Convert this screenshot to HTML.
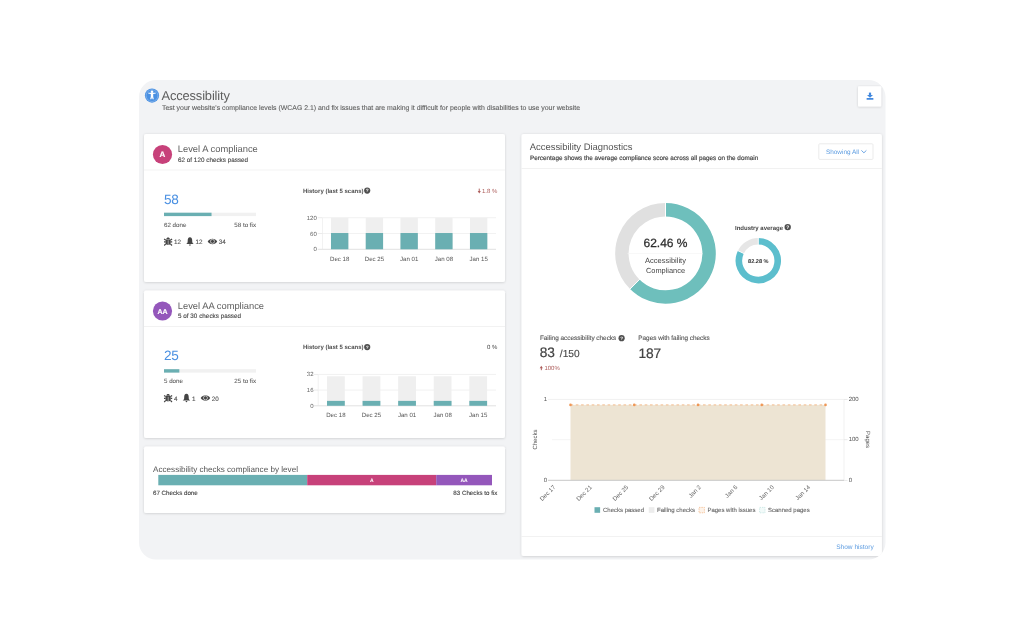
<!DOCTYPE html><html><head><meta charset="utf-8"><title>Accessibility</title><style>html,body{margin:0;padding:0;background:#fff;}svg{display:block;will-change:transform;text-rendering:geometricPrecision;font-family:"Liberation Sans",sans-serif;}</style></head><body><div id="w"><svg width="1024" height="640" viewBox="0 0 1024 640"><defs>
<clipPath id="pc"><rect x="139" y="80" width="746.5" height="479.5" rx="17" ry="17"/></clipPath>
<filter id="sh" x="-5%" y="-5%" width="110%" height="115%"><feDropShadow dx="0" dy="0.5" stdDeviation="1.1" flood-color="#000" flood-opacity="0.17"/></filter>
</defs>
<rect x="139" y="80" width="746.5" height="479.5" rx="17" ry="17" fill="#f2f3f5"/>
<g clip-path="url(#pc)">
<circle cx="152" cy="95.6" r="7.1" fill="#4a90e2"/>
<circle cx="152" cy="95.6" r="5.9" fill="none" stroke="#fff" stroke-opacity="0.5" stroke-width="0.5"/>
<g fill="#fff"><circle cx="152" cy="91.7" r="1.3"/><path d="M148.2 92.7 L155.8 92.7 L155.8 93.6 L153.2 94.1 L153.2 96.5 L153.8 99.2 L152.6 99.2 L152 97.2 L151.4 99.2 L150.2 99.2 L150.8 96.5 L150.8 94.1 L148.2 93.6 Z"/></g>
<text x="161.5" y="99.7" fill="#5e5e5e" text-anchor="start" style="font-size:12.9px;letter-spacing:-0.15px;" >Accessibility</text>
<text x="162" y="109.8" fill="#5e5e5e" text-anchor="start" style="font-size:6.92px;stroke:#5e5e5e;stroke-width:0.1px;" >Test your website's compliance levels (WCAG 2.1) and fix issues that are making it difficult for people with disabilities to use your website</text>
<rect x="858" y="86.3" width="23.2" height="20.3" rx="1" fill="#fff" filter="url(#sh)"/>
<g fill="#4389de"><rect x="868.9" y="92.6" width="2.2" height="2.6"/><path d="M867.0 95.0 L873.0 95.0 L870.0 97.8 Z"/><rect x="866.6" y="98.0" width="6.8" height="1.7" rx="0.3"/></g>
<rect x="144" y="134" width="361" height="148" rx="2" fill="#fff" filter="url(#sh)"/>
<rect x="144" y="290.5" width="361" height="147.5" rx="2" fill="#fff" filter="url(#sh)"/>
<rect x="144" y="446.5" width="361" height="66.5" rx="2" fill="#fff" filter="url(#sh)"/>
<rect x="521.5" y="134" width="360.4" height="422" rx="2" fill="#fff" filter="url(#sh)"/>
<circle cx="162.5" cy="154.5" r="9.6" fill="#c7417a"/>
<text x="162.5" y="157.3" fill="#fff" text-anchor="middle" style="font-size:8.0px;stroke:#fff;stroke-width:0.15px;font-weight:bold;" >A</text>
<text x="177.8" y="152.2" fill="#5e5e5e" text-anchor="start" style="font-size:9.35px;" >Level A compliance</text>
<text x="178" y="161.6" fill="#444" text-anchor="start" style="font-size:6.3px;stroke:#444;stroke-width:0.12px;letter-spacing:0.02px;" >62 of 120 checks passed</text>
<rect x="144" y="169.6" width="361" height="0.8" fill="#efefef" />
<text x="164" y="203.7" fill="#4a90e2" text-anchor="start" style="font-size:13.6px;letter-spacing:-0.2px;" >58</text>
<rect x="164" y="212.7" width="92" height="3.4" fill="#f1f1f1" />
<rect x="164" y="212.7" width="47.53333333333334" height="3.4" fill="#6aafb2" />
<text x="164" y="226.8" fill="#5e5e5e" text-anchor="start" style="font-size:6.2px;stroke:#5e5e5e;stroke-width:0.08px;" >62 done</text>
<text x="256" y="226.8" fill="#5e5e5e" text-anchor="end" style="font-size:6.2px;stroke:#5e5e5e;stroke-width:0.08px;" >58 to fix</text>
<g fill="#454545" transform="translate(164,237.1)"><path d="M2.3 2.1 C2.3 -0.1 5.9 -0.1 5.9 2.1 Z"/><path d="M1.5 2.4 H6.7 V6.0 C6.7 8.6 1.5 8.6 1.5 6.0 Z"/><path d="M0.1 1.9 L1.6 3.0 M8.1 1.9 L6.6 3.0 M0 4.8 L1.6 4.8 M8.2 4.8 L6.6 4.8 M0.2 8.4 L1.8 6.8 M8.0 8.4 L6.4 6.8" stroke="#454545" stroke-width="1.2"/><rect x="3.85" y="3.2" width="0.5" height="5.2" fill="#fff"/></g>
<text x="174" y="244" fill="#555" text-anchor="start" style="font-size:6.3px;stroke:#555;stroke-width:0.12px;" >12</text>
<g fill="#454545" transform="translate(186.20559999999998,237.2)"><path d="M3.75 0.1 C2.1 0.3 1.5 1.7 1.5 3.4 L1.4 5.0 Q1.1 6.0 0 6.9 L7.5 6.9 Q6.4 6.0 6.1 5.0 L6.0 3.4 C6.0 1.7 5.4 0.3 3.75 0.1 Z"/><path d="M2.9 7.2 H4.6 Q4.6 8.6 3.75 8.6 Q2.9 8.6 2.9 7.2 Z"/></g>
<text x="195.5056" y="244" fill="#555" text-anchor="start" style="font-size:6.3px;stroke:#555;stroke-width:0.12px;" >12</text>
<g transform="translate(207.71119999999996,238.4)"><path d="M0 3.0 C2.2 -0.7 7.3 -0.7 9.5 3.0 C7.3 6.7 2.2 6.7 0 3.0 Z" fill="#454545"/><circle cx="4.75" cy="3.0" r="2.0" fill="none" stroke="#fff" stroke-width="0.7" stroke-opacity="0.9"/></g>
<text x="218.71119999999996" y="244" fill="#555" text-anchor="start" style="font-size:6.3px;stroke:#555;stroke-width:0.12px;" >34</text>
<text x="303" y="192.9" fill="#505050" text-anchor="start" style="font-size:6.02px;font-weight:bold;" >History (last 5 scans)</text>
<circle cx="367.2" cy="190.6" r="3.1" fill="#505050"/><text x="367.2" y="192.35" fill="#fff" text-anchor="middle" style="font-size:4.81px;font-weight:bold">?</text>
<text x="497.3" y="192.9" fill="#ad5d5b" text-anchor="end" style="font-size:6.0px;" >1.8 %</text>
<g fill="#ad5d5b"><rect x="478.75" y="188.6" width="0.95" height="3"/><path d="M477.7 191.1 L480.8 191.1 L479.25 193.6 Z"/></g>
<rect x="322.3" y="217.45000000000002" width="173.7" height="0.7" fill="#ececec" />
<rect x="322.3" y="233.20000000000002" width="173.7" height="0.7" fill="#ececec" />
<rect x="322.0" y="217.8" width="0.7" height="31.5" fill="#ececec" />
<rect x="317.8" y="248.8" width="178.2" height="1.0" fill="#e2e2e2" />
<rect x="317.8" y="217.45000000000002" width="4.5" height="0.7" fill="#e2e2e2" />
<rect x="317.8" y="233.20000000000002" width="4.5" height="0.7" fill="#e2e2e2" />
<text x="316.8" y="219.9" fill="#666" text-anchor="end" style="font-size:6.0px;" >120</text>
<text x="316.8" y="235.65" fill="#666" text-anchor="end" style="font-size:6.0px;" >60</text>
<text x="316.8" y="251.4" fill="#666" text-anchor="end" style="font-size:6.0px;" >0</text>
<rect x="330.985" y="217.8" width="17.369999999999997" height="31.5" fill="#efefef" />
<rect x="330.985" y="233.025" width="17.369999999999997" height="16.275" fill="#6aafb2" />
<text x="339.67" y="260.8" fill="#555" text-anchor="middle" style="font-size:6.1px;" >Dec 18</text>
<rect x="365.725" y="217.8" width="17.369999999999997" height="31.5" fill="#efefef" />
<rect x="365.725" y="233.025" width="17.369999999999997" height="16.275" fill="#6aafb2" />
<text x="374.41" y="260.8" fill="#555" text-anchor="middle" style="font-size:6.1px;" >Dec 25</text>
<rect x="400.465" y="217.8" width="17.369999999999997" height="31.5" fill="#efefef" />
<rect x="400.465" y="233.025" width="17.369999999999997" height="16.275" fill="#6aafb2" />
<text x="409.15" y="260.8" fill="#555" text-anchor="middle" style="font-size:6.1px;" >Jan 01</text>
<rect x="435.205" y="217.8" width="17.369999999999997" height="31.5" fill="#efefef" />
<rect x="435.205" y="233.025" width="17.369999999999997" height="16.275" fill="#6aafb2" />
<text x="443.89" y="260.8" fill="#555" text-anchor="middle" style="font-size:6.1px;" >Jan 08</text>
<rect x="469.945" y="217.8" width="17.369999999999997" height="31.5" fill="#efefef" />
<rect x="469.945" y="233.025" width="17.369999999999997" height="16.275" fill="#6aafb2" />
<text x="478.63" y="260.8" fill="#555" text-anchor="middle" style="font-size:6.1px;" >Jan 15</text>
<circle cx="162.5" cy="311.0" r="9.6" fill="#9457bb"/>
<text x="162.5" y="313.8" fill="#fff" text-anchor="middle" style="font-size:7.0px;stroke:#fff;stroke-width:0.15px;font-weight:bold;" >AA</text>
<text x="177.8" y="308.7" fill="#5e5e5e" text-anchor="start" style="font-size:9.35px;" >Level AA compliance</text>
<text x="178" y="318.1" fill="#444" text-anchor="start" style="font-size:6.3px;stroke:#444;stroke-width:0.12px;letter-spacing:0.02px;" >5 of 30 checks passed</text>
<rect x="144" y="326.1" width="361" height="0.8" fill="#efefef" />
<text x="164" y="360.2" fill="#4a90e2" text-anchor="start" style="font-size:13.6px;letter-spacing:-0.2px;" >25</text>
<rect x="164" y="369.2" width="92" height="3.4" fill="#f1f1f1" />
<rect x="164" y="369.2" width="15.333333333333332" height="3.4" fill="#6aafb2" />
<text x="164" y="383.3" fill="#5e5e5e" text-anchor="start" style="font-size:6.2px;stroke:#5e5e5e;stroke-width:0.08px;" >5 done</text>
<text x="256" y="383.3" fill="#5e5e5e" text-anchor="end" style="font-size:6.2px;stroke:#5e5e5e;stroke-width:0.08px;" >25 to fix</text>
<g fill="#454545" transform="translate(164,393.6)"><path d="M2.3 2.1 C2.3 -0.1 5.9 -0.1 5.9 2.1 Z"/><path d="M1.5 2.4 H6.7 V6.0 C6.7 8.6 1.5 8.6 1.5 6.0 Z"/><path d="M0.1 1.9 L1.6 3.0 M8.1 1.9 L6.6 3.0 M0 4.8 L1.6 4.8 M8.2 4.8 L6.6 4.8 M0.2 8.4 L1.8 6.8 M8.0 8.4 L6.4 6.8" stroke="#454545" stroke-width="1.2"/><rect x="3.85" y="3.2" width="0.5" height="5.2" fill="#fff"/></g>
<text x="174" y="400.5" fill="#555" text-anchor="start" style="font-size:6.3px;stroke:#555;stroke-width:0.12px;" >4</text>
<g fill="#454545" transform="translate(182.7028,393.7)"><path d="M3.75 0.1 C2.1 0.3 1.5 1.7 1.5 3.4 L1.4 5.0 Q1.1 6.0 0 6.9 L7.5 6.9 Q6.4 6.0 6.1 5.0 L6.0 3.4 C6.0 1.7 5.4 0.3 3.75 0.1 Z"/><path d="M2.9 7.2 H4.6 Q4.6 8.6 3.75 8.6 Q2.9 8.6 2.9 7.2 Z"/></g>
<text x="192.0028" y="400.5" fill="#555" text-anchor="start" style="font-size:6.3px;stroke:#555;stroke-width:0.12px;" >1</text>
<g transform="translate(200.7056,394.9)"><path d="M0 3.0 C2.2 -0.7 7.3 -0.7 9.5 3.0 C7.3 6.7 2.2 6.7 0 3.0 Z" fill="#454545"/><circle cx="4.75" cy="3.0" r="2.0" fill="none" stroke="#fff" stroke-width="0.7" stroke-opacity="0.9"/></g>
<text x="211.7056" y="400.5" fill="#555" text-anchor="start" style="font-size:6.3px;stroke:#555;stroke-width:0.12px;" >20</text>
<text x="303" y="349.4" fill="#505050" text-anchor="start" style="font-size:6.02px;font-weight:bold;" >History (last 5 scans)</text>
<circle cx="367.2" cy="347.1" r="3.1" fill="#505050"/><text x="367.2" y="348.85" fill="#fff" text-anchor="middle" style="font-size:4.81px;font-weight:bold">?</text>
<text x="497.3" y="349.4" fill="#444" text-anchor="end" style="font-size:6.0px;" >0 %</text>
<rect x="318.1" y="373.95" width="177.89999999999998" height="0.7" fill="#ececec" />
<rect x="318.1" y="389.7" width="177.89999999999998" height="0.7" fill="#ececec" />
<rect x="317.8" y="374.3" width="0.7" height="31.5" fill="#ececec" />
<rect x="313.6" y="405.3" width="182.39999999999998" height="1.0" fill="#e2e2e2" />
<rect x="313.6" y="373.95" width="4.5" height="0.7" fill="#e2e2e2" />
<rect x="313.6" y="389.7" width="4.5" height="0.7" fill="#e2e2e2" />
<text x="313.5" y="376.40000000000003" fill="#666" text-anchor="end" style="font-size:6.0px;" >32</text>
<text x="313.5" y="392.15000000000003" fill="#666" text-anchor="end" style="font-size:6.0px;" >16</text>
<text x="313.5" y="407.90000000000003" fill="#666" text-anchor="end" style="font-size:6.0px;" >0</text>
<rect x="326.99500000000006" y="376.26875" width="17.79" height="29.53125" fill="#efefef" />
<rect x="326.99500000000006" y="400.878125" width="17.79" height="4.921875" fill="#6aafb2" />
<text x="335.89000000000004" y="417.3" fill="#555" text-anchor="middle" style="font-size:6.1px;" >Dec 18</text>
<rect x="362.57500000000005" y="376.26875" width="17.79" height="29.53125" fill="#efefef" />
<rect x="362.57500000000005" y="400.878125" width="17.79" height="4.921875" fill="#6aafb2" />
<text x="371.47" y="417.3" fill="#555" text-anchor="middle" style="font-size:6.1px;" >Dec 25</text>
<rect x="398.15500000000003" y="376.26875" width="17.79" height="29.53125" fill="#efefef" />
<rect x="398.15500000000003" y="400.878125" width="17.79" height="4.921875" fill="#6aafb2" />
<text x="407.05" y="417.3" fill="#555" text-anchor="middle" style="font-size:6.1px;" >Jan 01</text>
<rect x="433.735" y="376.26875" width="17.79" height="29.53125" fill="#efefef" />
<rect x="433.735" y="400.878125" width="17.79" height="4.921875" fill="#6aafb2" />
<text x="442.63" y="417.3" fill="#555" text-anchor="middle" style="font-size:6.1px;" >Jan 08</text>
<rect x="469.31500000000005" y="376.26875" width="17.79" height="29.53125" fill="#efefef" />
<rect x="469.31500000000005" y="400.878125" width="17.79" height="4.921875" fill="#6aafb2" />
<text x="478.21000000000004" y="417.3" fill="#555" text-anchor="middle" style="font-size:6.1px;" >Jan 15</text>
<text x="153" y="471.6" fill="#555" text-anchor="start" style="font-size:8.15px;" >Accessibility checks compliance by level</text>
<rect x="158.3" y="474.9" width="148.9" height="10.4" fill="#6aafb2" />
<rect x="307.2" y="474.9" width="129.0" height="10.4" fill="#c7417a" />
<rect x="436.2" y="474.9" width="55.8" height="10.4" fill="#9457bb" />
<text x="371.7" y="482.2" fill="#fff" text-anchor="middle" style="font-size:5.0px;font-weight:bold;" >A</text>
<text x="464.1" y="482.2" fill="#fff" text-anchor="middle" style="font-size:5.0px;font-weight:bold;" >AA</text>
<text x="153" y="494.8" fill="#444" text-anchor="start" style="font-size:6.2px;stroke:#444;stroke-width:0.12px;" >67 Checks done</text>
<text x="497.4" y="494.8" fill="#444" text-anchor="end" style="font-size:6.2px;stroke:#444;stroke-width:0.12px;" >83 Checks to fix</text>
<text x="529.7" y="150.3" fill="#555" text-anchor="start" style="font-size:9.45px;" >Accessibility Diagnostics</text>
<text x="530" y="160.2" fill="#444" text-anchor="start" style="font-size:6.35px;stroke:#444;stroke-width:0.18px;" >Percentage shows the average compliance score across all pages on the domain</text>
<rect x="818.8" y="143.8" width="54.2" height="15.6" rx="1" fill="#fff" stroke="#e6e6e6" stroke-width="0.8"/>
<text x="826" y="153.8" fill="#5b9be0" text-anchor="start" style="font-size:6.4px;" >Showing All</text>
<path d="M861.4 150.4 L863.9 152.8 L866.4 150.4" fill="none" stroke="#5b9be0" stroke-width="0.9"/>
<rect x="521.5" y="168.0" width="360.4" height="0.8" fill="#eeeeee" />
<path d="M665.50 209.80 A43.6 43.6 0 1 1 634.75 284.31" fill="none" stroke="#6ebfbc" stroke-width="13.4"/>
<path d="M634.75 284.31 A43.6 43.6 0 0 1 665.50 209.80" fill="none" stroke="#e0e0e0" stroke-width="13.4"/>
<line x1="665.50" y1="217.00" x2="665.50" y2="202.60" stroke="#fff" stroke-width="1"/>
<line x1="639.83" y1="279.20" x2="629.67" y2="289.41" stroke="#fff" stroke-width="1"/>
<text x="665.5" y="246.6" fill="#2b2b2b" text-anchor="middle" style="font-size:12.0px;stroke:#2b2b2b;stroke-width:0.25px;" >62.46 %</text>
<rect x="627.5" y="253.4" width="75" height="0.6" fill="#f4f4f4" />
<text x="665.5" y="262.9" fill="#444" text-anchor="middle" style="font-size:7.5px;" >Accessibility</text>
<text x="665.5" y="272.9" fill="#444" text-anchor="middle" style="font-size:7.4px;" >Compliance</text>
<text x="735" y="229.7" fill="#444" text-anchor="start" style="font-size:6.0px;font-weight:bold;" >Industry average</text>
<circle cx="787.7" cy="227.1" r="3.2" fill="#505050"/><text x="787.7" y="228.85" fill="#fff" text-anchor="middle" style="font-size:4.96px;font-weight:bold">?</text>
<path d="M758.30 241.30 A19.4 19.4 0 1 1 740.89 252.13" fill="none" stroke="#5cbecd" stroke-width="6.6"/>
<path d="M740.89 252.13 A19.4 19.4 0 0 1 758.30 241.30" fill="none" stroke="#e6e6e6" stroke-width="6.6"/>
<line x1="758.30" y1="245.10" x2="758.30" y2="237.50" stroke="#fff" stroke-width="0.8"/>
<line x1="744.30" y1="253.81" x2="737.49" y2="250.45" stroke="#fff" stroke-width="0.8"/>
<text x="758.3" y="262.8" fill="#333" text-anchor="middle" style="font-size:5.6px;font-weight:bold;" >82.28 %</text>
<text x="539.9" y="340.3" fill="#555" text-anchor="start" style="font-size:6.4px;stroke:#555;stroke-width:0.12px;" >Failing accessibility checks</text>
<circle cx="621.6" cy="338.2" r="3.1" fill="#505050"/><text x="621.6" y="339.95" fill="#fff" text-anchor="middle" style="font-size:4.81px;font-weight:bold">?</text>
<text x="539.8" y="357.3" fill="#444" text-anchor="start" style="font-size:13.7px;stroke:#444;stroke-width:0.2px;letter-spacing:-0.1px;" >83</text>
<text x="559.8" y="357.3" fill="#444" text-anchor="start" style="font-size:10.2px;stroke:#444;stroke-width:0.12px;" >/150</text>
<text x="544.4" y="369.5" fill="#ad5d5b" text-anchor="start" style="font-size:6.0px;" >100%</text>
<g fill="#ad5d5b"><path d="M539.7 368.3 L542.9 368.3 L541.3 365.7 Z"/><rect x="540.85" y="368" width="0.95" height="2.2"/></g>
<text x="638.3" y="340.3" fill="#555" text-anchor="start" style="font-size:6.4px;stroke:#555;stroke-width:0.12px;" >Pages with failing checks</text>
<text x="638.4" y="357.6" fill="#444" text-anchor="start" style="font-size:13.8px;stroke:#444;stroke-width:0.2px;letter-spacing:-0.1px;" >187</text>
<rect x="548" y="398.95" width="296" height="0.7" fill="#ececec" />
<rect x="552" y="439.45" width="292" height="0.7" fill="#efefef" />
<rect x="843.65" y="399.3" width="0.7" height="81.0" fill="#ececec" />
<rect x="844" y="398.95" width="3.5" height="0.7" fill="#e0e0e0" />
<rect x="844" y="439.45" width="3.5" height="0.7" fill="#e0e0e0" />
<rect x="844" y="479.95" width="3.5" height="0.7" fill="#e0e0e0" />
<rect x="570.5" y="404.9" width="255.0" height="75.40000000000003" fill="#ede4d3" />
<line x1="570.5" y1="404.9" x2="825.5" y2="404.9" stroke="#f4b585" stroke-width="0.9" stroke-dasharray="2.6 2.7"/>
<circle cx="570.50" cy="404.9" r="1.3" fill="#ef9756"/>
<circle cx="634.25" cy="404.9" r="1.3" fill="#ef9756"/>
<circle cx="698.00" cy="404.9" r="1.3" fill="#ef9756"/>
<circle cx="761.75" cy="404.9" r="1.3" fill="#ef9756"/>
<circle cx="825.50" cy="404.9" r="1.3" fill="#ef9756"/>
<rect x="548" y="479.8" width="296" height="1.0" fill="#c8c8c8" />
<text x="545.5" y="401.4" fill="#555" text-anchor="middle" style="font-size:6.0px;" >1</text>
<text x="545.5" y="482.4" fill="#555" text-anchor="middle" style="font-size:6.0px;" >0</text>
<text x="848.7" y="401.4" fill="#555" text-anchor="start" style="font-size:6.0px;" >200</text>
<text x="848.7" y="441.4" fill="#555" text-anchor="start" style="font-size:6.0px;" >100</text>
<text x="848.7" y="482.4" fill="#555" text-anchor="start" style="font-size:6.0px;" >0</text>
<text x="0" y="0" fill="#555" text-anchor="middle" style="font-size:6.0px;" transform="translate(536.6 439.6) rotate(-90)">Checks</text>
<text x="0" y="0" fill="#555" text-anchor="middle" style="font-size:6.0px;" transform="translate(866.0 439.6) rotate(90)">Pages</text>
<text x="0" y="0" fill="#666" text-anchor="end" style="font-size:6.1px;" transform="translate(555.90 487.6) rotate(-45)">Dec 17</text>
<text x="0" y="0" fill="#666" text-anchor="end" style="font-size:6.1px;" transform="translate(592.30 487.6) rotate(-45)">Dec 21</text>
<text x="0" y="0" fill="#666" text-anchor="end" style="font-size:6.1px;" transform="translate(628.70 487.6) rotate(-45)">Dec 25</text>
<text x="0" y="0" fill="#666" text-anchor="end" style="font-size:6.1px;" transform="translate(665.10 487.6) rotate(-45)">Dec 29</text>
<text x="0" y="0" fill="#666" text-anchor="end" style="font-size:6.1px;" transform="translate(701.50 487.6) rotate(-45)">Jan 2</text>
<text x="0" y="0" fill="#666" text-anchor="end" style="font-size:6.1px;" transform="translate(737.90 487.6) rotate(-45)">Jan 6</text>
<text x="0" y="0" fill="#666" text-anchor="end" style="font-size:6.1px;" transform="translate(774.30 487.6) rotate(-45)">Jan 10</text>
<text x="0" y="0" fill="#666" text-anchor="end" style="font-size:6.1px;" transform="translate(810.70 487.6) rotate(-45)">Jan 14</text>
<rect x="594.5" y="507.2" width="5.6" height="5.6" fill="#6aafb2" />
<text x="603" y="512.2" fill="#666" text-anchor="start" style="font-size:6.0px;stroke:#666;stroke-width:0.1px;" >Checks passed</text>
<rect x="648.8" y="507.2" width="5.6" height="5.6" fill="#ececec" />
<text x="657" y="512.2" fill="#666" text-anchor="start" style="font-size:6.0px;stroke:#666;stroke-width:0.1px;" >Failing checks</text>
<rect x="699" y="507.4" width="5.4" height="5.4" fill="#fdf3ea" stroke="#f2b27e" stroke-width="0.7" stroke-dasharray="1.4 1"/>
<text x="707.4" y="512.2" fill="#666" text-anchor="start" style="font-size:6.0px;stroke:#666;stroke-width:0.1px;" >Pages with issues</text>
<rect x="759.6" y="507.4" width="5.4" height="5.4" fill="#f2faf9" stroke="#bfe3df" stroke-width="0.7" stroke-dasharray="1.4 1"/>
<text x="768" y="512.2" fill="#666" text-anchor="start" style="font-size:6.0px;stroke:#666;stroke-width:0.1px;" >Scanned pages</text>
<rect x="521.5" y="536.3" width="360.4" height="0.7" fill="#ececec" />
<text x="873.7" y="548.8" fill="#5b9be0" text-anchor="end" style="font-size:6.55px;" >Show history</text>
</g></svg></div></body></html>
